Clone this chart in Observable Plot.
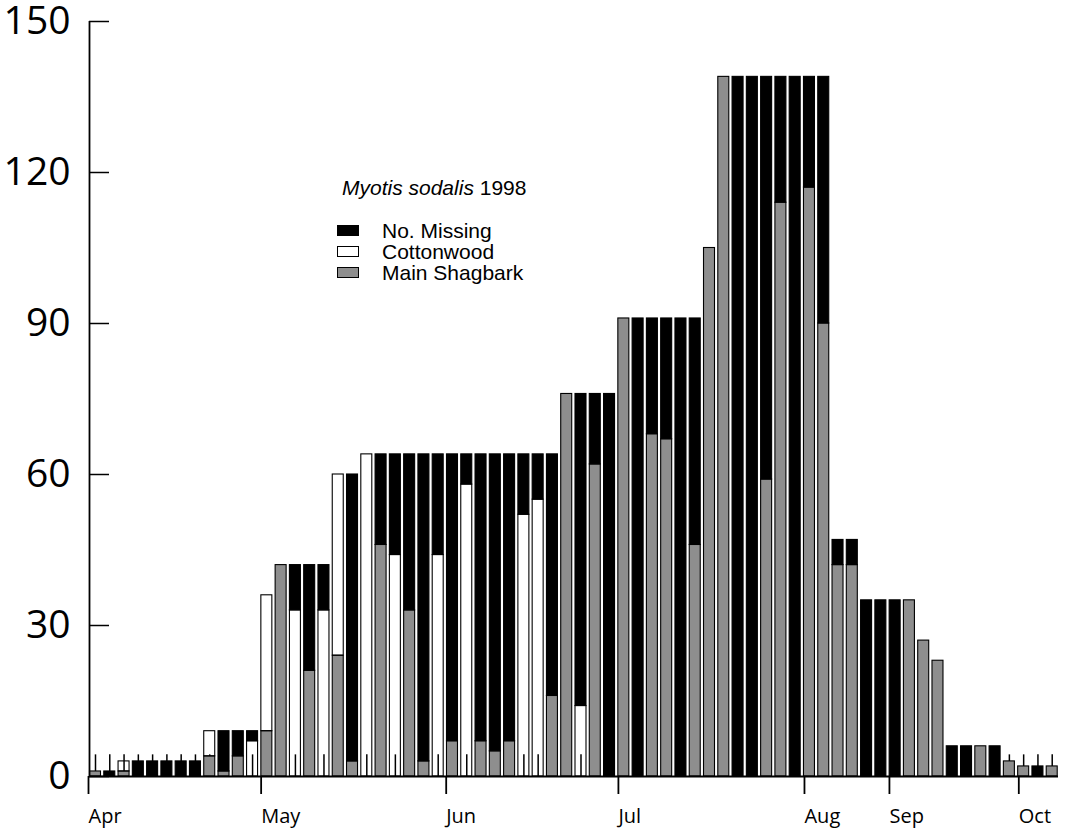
<!DOCTYPE html>
<html>
<head>
<meta charset="utf-8">
<script src="https://cdn.jsdelivr.net/npm/d3@7"></script>
<script src="https://cdn.jsdelivr.net/npm/@observablehq/plot@0.6"></script>
<style>
  body { margin: 0; background: #fff; }
  #wrap { position: relative; width: 1068px; height: 830px; }
  #legend { position: absolute; left: 337px; top: 177px; font-family: "Liberation Sans", Arial, sans-serif; font-size: 21px; color: #000; line-height: 21px; }
  #legend .title { margin-left: 5px; margin-bottom: 22px; white-space: nowrap; }
  #legend .row { display: flex; align-items: center; height: 21px; white-space: nowrap; }
  #legend .sw { width: 22px; height: 11px; box-sizing: border-box; border: 1.3px solid #000; margin-right: 23px; }
</style>
</head>
<body>
<div id="wrap"></div>
<script>
// ---- data (one entry per sample bar, left to right) ----
const shagbark   = [1,0,1,0,0,0,0,0,4,1,4,0,9,42,0,21,0,24,3,0,46,0,33,3,0,7,0,7,5,7,0,0,16,76,0,62,0,91,0,68,67,0,46,105,139,0,0,59,114,0,117,90,42,42,0,0,0,35,27,23,0,0,6,0,3,2,0,2];
const cottonwood = [0,0,2,0,0,0,0,0,5,0,0,7,27,0,33,0,33,36,0,64,0,44,0,0,44,0,58,0,0,0,52,55,0,0,14,0,0,0,0,0,0,0,0,0,0,0,0,0,0,0,0,0,0,0,0,0,0,0,0,0,0,0,0,0,0,0,0,0];
const missing    = [0,1,0,3,3,3,3,3,0,8,5,2,0,0,9,21,9,0,57,0,18,20,31,61,20,57,6,57,59,57,12,9,48,0,62,14,76,0,91,23,24,91,45,0,0,139,139,80,25,139,22,49,5,5,35,35,35,0,0,0,6,6,0,6,0,0,2,0];
const seriesNames = ["Main Shagbark", "Cottonwood", "No. Missing"];
const seriesColors = ["#8e8e8e", "none", "#000000"];
const yTicks = [0, 30, 60, 90, 120, 150];
const monthLabels = ["Apr", "May", "Jun", "Jul", "Aug", "Sep", "Oct"];
const monthTicks  = [-0.42, 11.67, 24.63, 36.69, 49.72, 55.67, 64.73]; // positions in bar-index units
const flagTop = 4.3; // small marker line drawn at every sample

// ---- build table ----
const bars = shagbark.map((_, i) => i);
const rows = [];
bars.forEach(i => {
  [shagbark, cottonwood, missing].forEach((arr, k) => {
    if (arr[i] > 0) rows.push({i, series: seriesNames[k], value: arr[i]});
  });
});

const xDomain = [-0.42, 67.44];
const half = 0.385;

const chart = Plot.plot({
  width: 1068,
  height: 830,
  marginLeft: 89,
  marginRight: 10,
  marginTop: 21,
  marginBottom: 54,
  style: {fontFamily: "'Open Sans', sans-serif", background: "#fff", color: "#000", overflow: "visible"},
  x: {domain: xDomain, axis: null},
  y: {domain: [0, 150], axis: null},
  color: {type: "ordinal", domain: seriesNames, range: seriesColors},
  marks: [
    Plot.ruleX(bars, {x: d => d, y1: 0, y2: flagTop, stroke: "#000", strokeWidth: 1.5}),
    Plot.rectY(rows, Plot.stackY({
      x1: d => d.i - half,
      x2: d => d.i + half,
      y: "value",
      fill: "series",
      z: "series",
      order: seriesNames,
      stroke: "#000",
      strokeWidth: 1.1
    })),
    Plot.ruleY([0], {stroke: "#000", strokeWidth: 1.8}),
    Plot.ruleX([xDomain[0]], {stroke: "#000", strokeWidth: 1.8}),
    Plot.axisY(yTicks, {label: null, tickSize: 20, dx: 20, tickFormat: () => "", strokeWidth: 1.5}),
    Plot.axisY(yTicks, {label: null, tickSize: 0, tickPadding: 19, fontSize: 39, fill: "#000"}),
    Plot.axisX(monthTicks, {
      label: null,
      tickSize: 18, tickPadding: 14, strokeWidth: 1.8,
      textAnchor: "start", dx: -1, fontSize: 20, fill: "#000",
      tickFormat: d => monthLabels[monthTicks.indexOf(d)]
    })
  ]
});

const wrap = document.getElementById("wrap");
wrap.appendChild(chart);

// legend overlay
const legend = document.createElement("div");
legend.id = "legend";
legend.innerHTML = `<div class="title"><i>Myotis sodalis</i> 1998</div>` +
  seriesNames.slice().reverse().map(name => {
    const c = seriesColors[seriesNames.indexOf(name)];
    return `<div class="row"><span class="sw" style="background:${c === "none" ? "#fff" : c}"></span><span>${name}</span></div>`;
  }).join("");
wrap.appendChild(legend);
</script>
</body>
</html>
